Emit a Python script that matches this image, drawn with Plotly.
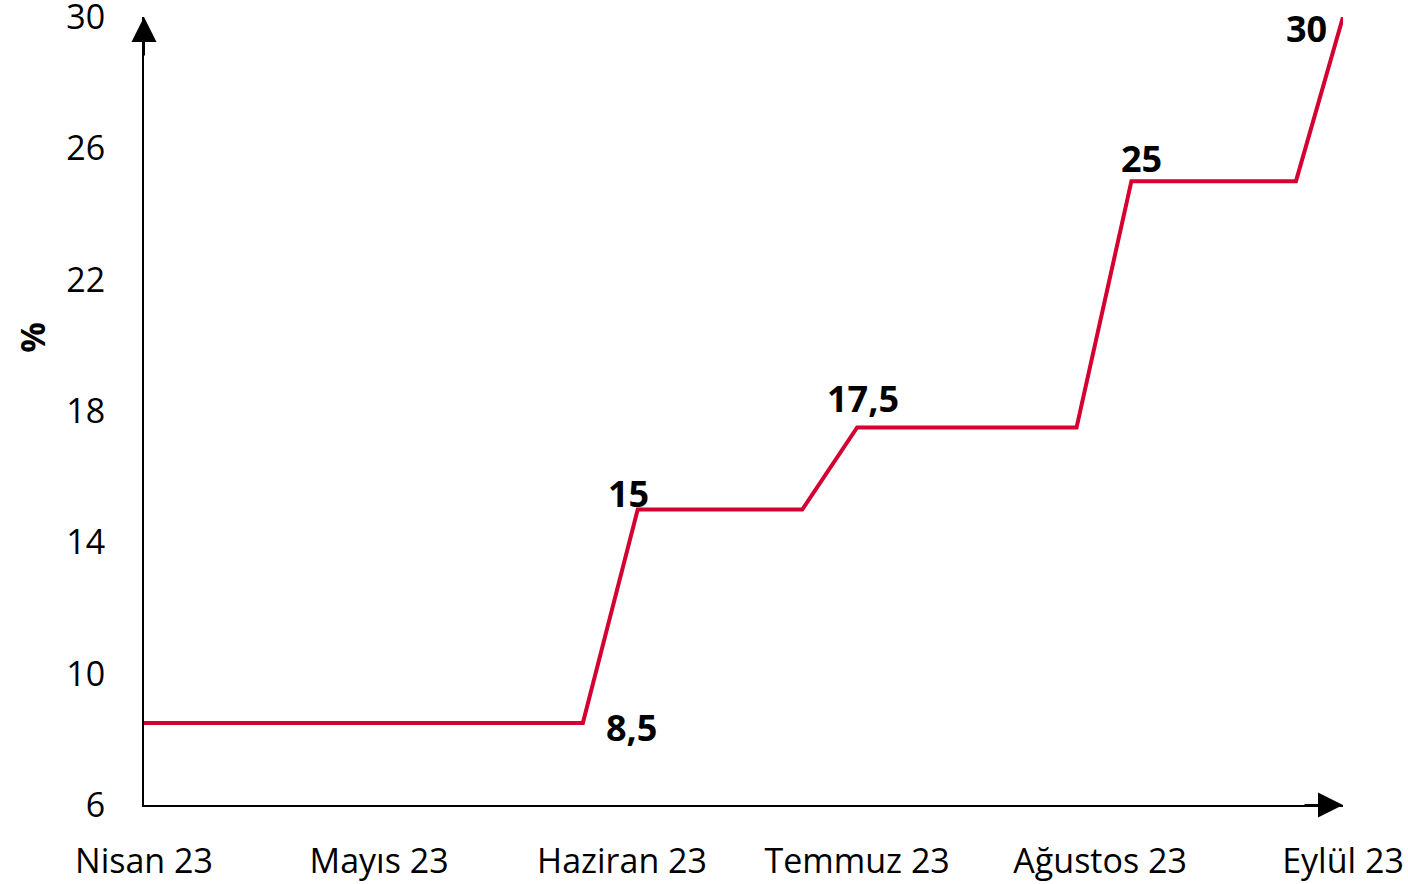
import plotly.graph_objects as go

dates = ['2023-04-01', '2023-04-08', '2023-04-15', '2023-04-22', '2023-04-29',
         '2023-05-06', '2023-05-13', '2023-05-20', '2023-05-27',
         '2023-06-03', '2023-06-10', '2023-06-17', '2023-06-24',
         '2023-07-01', '2023-07-08', '2023-07-15', '2023-07-22', '2023-07-29',
         '2023-08-05', '2023-08-12', '2023-08-19', '2023-08-26',
         '2023-09-01']
rates = [8.5, 8.5, 8.5, 8.5, 8.5,
         8.5, 8.5, 8.5, 8.5,
         15, 15, 15, 15,
         17.5, 17.5, 17.5, 17.5, 17.5,
         25, 25, 25, 25,
         30]

tick_dates = ['2023-04-01', '2023-05-01', '2023-06-01', '2023-07-01', '2023-08-01', '2023-09-01']
tick_labels = ['Nisan 23', 'Mayıs 23', 'Haziran 23', 'Temmuz 23', 'Ağustos 23', 'Eylül 23']
y_ticks = [6, 10, 14, 18, 22, 26, 30]

label_dates = ['2023-05-27', '2023-06-03', '2023-07-01', '2023-08-05', '2023-09-01']
label_values = [8.5, 15, 17.5, 25, 30]
label_texts = ['8,5', '15', '17,5', '25', '30']
label_shifts = [(49, -5), (-9, 16), (6, 29), (10, 23), (-37, -11)]

FONT = 'Open Sans'
RED = '#D50032'

fig = go.Figure()
fig.add_trace(go.Scatter(x=dates, y=rates, mode='lines',
                         line=dict(color=RED, width=4), hoverinfo='skip',
                         showlegend=False))

for d, v, t, (dx, dy) in zip(label_dates, label_values, label_texts, label_shifts):
    fig.add_annotation(x=d, y=v, text=f'<b>{t}</b>', showarrow=False,
                       xshift=dx, yshift=dy, xanchor='center', yanchor='middle',
                       font=dict(family=FONT, size=36, color='black'))

# axis arrows
fig.add_annotation(xref='paper', yref='paper', x=0, y=1, ax=0, ay=40,
                   text='', showarrow=True, arrowhead=2, arrowsize=2.5,
                   arrowwidth=2, arrowcolor='black', standoff=0)
fig.add_annotation(xref='paper', yref='paper', x=1, y=0, ax=-40, ay=0,
                   text='', showarrow=True, arrowhead=2, arrowsize=2.5,
                   arrowwidth=2, arrowcolor='black', standoff=0)

fig.add_annotation(xref='paper', yref='paper', x=-0.0934, y=0.593,
                   xanchor='center', yanchor='middle',
                   text='<b>%</b>', showarrow=False, textangle=-90,
                   font=dict(family=FONT, size=34, color='black'))

fig.update_layout(
    width=1408, height=884,
    margin=dict(l=144, r=65, t=17, b=79),
    paper_bgcolor='white', plot_bgcolor='white',
    font=dict(family=FONT, size=34, color='black'),
    xaxis=dict(range=['2023-04-01', '2023-09-01'], tickvals=tick_dates,
               ticktext=tick_labels, showgrid=False, zeroline=False,
               showline=True, linecolor='black', linewidth=2,
               ticks='outside', ticklen=25, tickcolor='white',
               ticklabeloverflow='allow', automargin=False,
               tickfont=dict(family=FONT, size=34, color='black')),
    yaxis=dict(range=[6, 30], tickvals=y_ticks, showgrid=False, zeroline=False,
               showline=True, linecolor='black', linewidth=2,
               ticks='outside', ticklen=30, tickcolor='white',
               ticklabeloverflow='allow', automargin=False,
               tickfont=dict(family=FONT, size=34, color='black')),
)

fig.write_html('out.html',
               config={'displayModeBar': False},
               post_script="document.body.style.margin='0';document.body.style.overflow='hidden';")
